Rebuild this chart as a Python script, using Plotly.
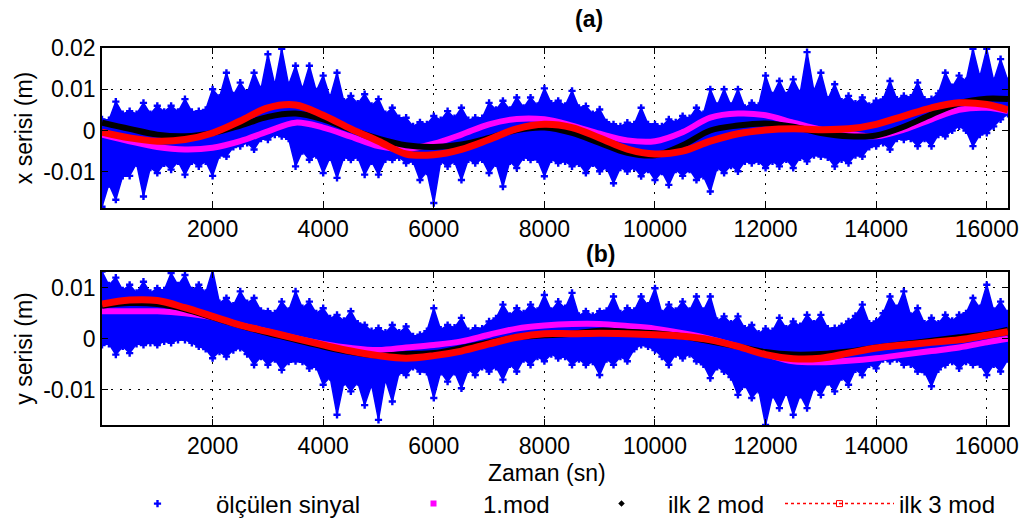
import plotly.graph_objects as go

# ---------------- data ----------------
t_mod = [0, 500, 1000, 1500, 2000, 2500, 3000, 3500, 4000, 4500, 5000, 5500,
         6000, 6500, 7000, 7500, 8000, 8500, 9000, 9500, 10000, 10500, 11000,
         11500, 12000, 12500, 13000, 13500, 14000, 14500, 15000, 15500, 16000, 16384]

# (a) x serisi
x_mod1 = [-0.0010, -0.0026, -0.0040, -0.0046, -0.0042, -0.0026, -0.0002, 0.0019, 0.0007,
          -0.0015, -0.0038, -0.0045, -0.0032, -0.0010, 0.0015, 0.0028, 0.0027, 0.0012,
          -0.0008, -0.0024, -0.0026, -0.0004, 0.0031, 0.0041, 0.0037, 0.0019, 0.0002,
          -0.0008, -0.0014, 0.0002, 0.0027, 0.0050, 0.0055, 0.0047]
x_mod2 = [0.0019, 0.0004, -0.0010, -0.0014, -0.0006, 0.0012, 0.0033, 0.0041, 0.0027,
          0.0002, -0.0020, -0.0036, -0.0040, -0.0034, -0.0018, 0.0001, 0.0007, -0.0006,
          -0.0030, -0.0054, -0.0060, -0.0036, 0.0000, 0.0012, 0.0017, 0.0009, -0.0006,
          -0.0014, -0.0012, 0.0009, 0.0039, 0.0066, 0.0077, 0.0076]
x_mod3 = [-0.0004, -0.0018, -0.0026, -0.0022, -0.0006, 0.0023, 0.0055, 0.0062, 0.0037,
          0.0004, -0.0026, -0.0057, -0.0059, -0.0046, -0.0022, 0.0004, 0.0015, 0.0007,
          -0.0018, -0.0045, -0.0057, -0.0050, -0.0026, -0.0008, 0.0001, 0.0004, 0.0002,
          0.0004, 0.0015, 0.0035, 0.0055, 0.0067, 0.0063, 0.0050]

# (b) y serisi
y_mod1 = [0.0054, 0.0054, 0.0054, 0.0050, 0.0042, 0.0027, 0.0014, 0.0001, -0.0010,
          -0.0018, -0.0022, -0.0017, -0.0012, -0.0005, 0.0008, 0.0020, 0.0026, 0.0029,
          0.0029, 0.0025, 0.0020, 0.0011, 0.0000, -0.0015, -0.0030, -0.0044, -0.0046,
          -0.0043, -0.0038, -0.0031, -0.0024, -0.0017, -0.0007, 0.0000]
y_mod2 = [0.0065, 0.0070, 0.0068, 0.0058, 0.0042, 0.0026, 0.0011, -0.0002, -0.0015,
          -0.0026, -0.0033, -0.0030, -0.0028, -0.0018, -0.0007, 0.0003, 0.0007, 0.0010,
          0.0016, 0.0014, 0.0011, 0.0005, -0.0005, -0.0015, -0.0026, -0.0031, -0.0030,
          -0.0025, -0.0017, -0.0010, -0.0004, 0.0003, 0.0009, 0.0018]
y_mod3 = [0.0068, 0.0076, 0.0075, 0.0061, 0.0044, 0.0027, 0.0014, 0.0001, -0.0012,
          -0.0024, -0.0033, -0.0038, -0.0033, -0.0024, -0.0010, 0.0003, 0.0010, 0.0010,
          0.0011, 0.0010, 0.0008, 0.0005, -0.0002, -0.0015, -0.0031, -0.0039, -0.0038,
          -0.0028, -0.0018, -0.0012, -0.0007, -0.0002, 0.0007, 0.0014]

# measured signal: spike extents of the scatter cloud (every 250 s)
t_sig = [0, 250, 500, 750, 1000, 1250, 1500, 1750, 2000, 2250, 2500, 2750, 3000, 3250,
         3500, 3750, 4000, 4250, 4500, 4750, 5000, 5250, 5500, 5750, 6000, 6250, 6500,
         6750, 7000, 7250, 7500, 7750, 8000, 8250, 8500, 8750, 9000, 9250, 9500, 9750,
         10000, 10250, 10500, 10750, 11000, 11250, 11500, 11750, 12000, 12250, 12500,
         12750, 13000, 13250, 13500, 13750, 14000, 14250, 14500, 14750, 15000, 15250,
         15500, 15750, 16000, 16250, 16384]
x_sig_upper = [0.0027, 0.0070, 0.0047, 0.0067, 0.0060, 0.0060, 0.0076, 0.0047, 0.0100,
               0.0140, 0.0116, 0.0140, 0.0185, 0.0198, 0.0157, 0.0157, 0.0133, 0.0140,
               0.0084, 0.0088, 0.0076, 0.0055, 0.0031, 0.0020, 0.0035, 0.0047, 0.0055,
               0.0031, 0.0067, 0.0072, 0.0080, 0.0080, 0.0102, 0.0072, 0.0096, 0.0059,
               0.0051, 0.0015, 0.0019, 0.0055, 0.0015, 0.0027, 0.0035, 0.0055, 0.0100,
               0.0100, 0.0100, 0.0067, 0.0133, 0.0120, 0.0124, 0.0190, 0.0140, 0.0112,
               0.0084, 0.0080, 0.0072, 0.0120, 0.0084, 0.0116, 0.0076, 0.0140, 0.0133,
               0.0198, 0.0198, 0.0173, 0.0120]
x_sig_lower = [-0.0185, -0.0168, -0.0110, -0.0160, -0.0103, -0.0095, -0.0107, -0.0087,
               -0.0110, -0.0063, -0.0038, -0.0046, -0.0022, -0.0014, -0.0087, -0.0071,
               -0.0103, -0.0115, -0.0071, -0.0107, -0.0107, -0.0071, -0.0079, -0.0120,
               -0.0176, -0.0087, -0.0120, -0.0079, -0.0103, -0.0136, -0.0091, -0.0071,
               -0.0111, -0.0079, -0.0087, -0.0103, -0.0099, -0.0128, -0.0099, -0.0111,
               -0.0120, -0.0132, -0.0110, -0.0120, -0.0148, -0.0103, -0.0099, -0.0079,
               -0.0091, -0.0087, -0.0091, -0.0075, -0.0063, -0.0087, -0.0079, -0.0063,
               -0.0038, -0.0046, -0.0022, -0.0038, -0.0038, -0.0014, 0.0010, -0.0038,
               -0.0006, 0.0027, 0.0040]
y_sig_upper = [0.0132, 0.0120, 0.0106, 0.0112, 0.0099, 0.0129, 0.0125, 0.0106, 0.0135,
               0.0080, 0.0093, 0.0080, 0.0054, 0.0073, 0.0093, 0.0073, 0.0060, 0.0047,
               0.0054, 0.0027, 0.0021, 0.0027, 0.0024, 0.0008, 0.0060, 0.0027, 0.0041,
               0.0021, 0.0034, 0.0067, 0.0060, 0.0067, 0.0086, 0.0073, 0.0090, 0.0054,
               0.0054, 0.0083, 0.0060, 0.0083, 0.0099, 0.0067, 0.0073, 0.0083, 0.0083,
               0.0044, 0.0044, 0.0027, 0.0020, 0.0041, 0.0034, 0.0047, 0.0047, 0.0021,
               0.0034, 0.0067, 0.0034, 0.0083, 0.0093, 0.0060, 0.0041, 0.0047, 0.0047,
               0.0080, 0.0106, 0.0073, 0.0050]
y_sig_lower = [-0.0012, -0.0031, -0.0028, -0.0012, -0.0012, -0.0008, -0.0002, -0.0015,
               -0.0038, -0.0035, -0.0018, -0.0051, -0.0051, -0.0061, -0.0044, -0.0058,
               -0.0090, -0.0149, -0.0103, -0.0130, -0.0159, -0.0123, -0.0071, -0.0064,
               -0.0116, -0.0084, -0.0097, -0.0071, -0.0064, -0.0080, -0.0064, -0.0051,
               -0.0044, -0.0038, -0.0051, -0.0051, -0.0071, -0.0051, -0.0044, -0.0012,
               -0.0022, -0.0051, -0.0038, -0.0044, -0.0077, -0.0064, -0.0110, -0.0116,
               -0.0169, -0.0136, -0.0149, -0.0136, -0.0110, -0.0103, -0.0090, -0.0071,
               -0.0058, -0.0044, -0.0051, -0.0064, -0.0093, -0.0051, -0.0058, -0.0051,
               -0.0071, -0.0064, -0.0040]

# measured signal: bulk edge of the cloud between the spikes (mid points)
t_mid = [125, 375, 625, 875, 1125, 1375, 1625, 1875, 2125, 2375, 2625, 2875, 3125, 3375,
         3625, 3875, 4125, 4375, 4625, 4875, 5125, 5375, 5625, 5875, 6125, 6375, 6625,
         6875, 7125, 7375, 7625, 7875, 8125, 8375, 8625, 8875, 9125, 9375, 9625, 9875,
         10125, 10375, 10625, 10875, 11125, 11375, 11625, 11875, 12125, 12375, 12625,
         12875, 13125, 13375, 13625, 13875, 14125, 14375, 14625, 14875, 15125, 15375,
         15625, 15875, 16125]
x_mid_upper = [0.0025, 0.0040, 0.0040, 0.0040, 0.0045, 0.0045, 0.0045, 0.0050, 0.0080,
               0.0085, 0.0090, 0.0100, 0.0110, 0.0110, 0.0100, 0.0095, 0.0080, 0.0070,
               0.0065, 0.0060, 0.0040, 0.0030, 0.0010, 0.0015, 0.0025, 0.0030, 0.0025,
               0.0030, 0.0050, 0.0050, 0.0055, 0.0060, 0.0065, 0.0060, 0.0055, 0.0040,
               0.0020, 0.0010, 0.0015, 0.0015, 0.0010, 0.0020, 0.0030, 0.0040, 0.0060,
               0.0060, 0.0055, 0.0060, 0.0085, 0.0085, 0.0090, 0.0095, 0.0075, 0.0070,
               0.0065, 0.0060, 0.0075, 0.0075, 0.0080, 0.0075, 0.0090, 0.0105, 0.0120,
               0.0130, 0.0120]
x_mid_lower = [-0.0130, -0.0110, -0.0080, -0.0090, -0.0080, -0.0075, -0.0075, -0.0075,
               -0.0060, -0.0040, -0.0030, -0.0020, -0.0010, -0.0020, -0.0050, -0.0060,
               -0.0065, -0.0065, -0.0065, -0.0075, -0.0070, -0.0065, -0.0075, -0.0100,
               -0.0075, -0.0075, -0.0070, -0.0070, -0.0080, -0.0075, -0.0065, -0.0070,
               -0.0070, -0.0075, -0.0080, -0.0080, -0.0090, -0.0090, -0.0090, -0.0095,
               -0.0100, -0.0095, -0.0095, -0.0110, -0.0090, -0.0085, -0.0075, -0.0075,
               -0.0075, -0.0070, -0.0065, -0.0060, -0.0065, -0.0070, -0.0060, -0.0040,
               -0.0030, -0.0020, -0.0020, -0.0020, -0.0010, 0.0000, 0.0000, -0.0010,
               0.0010]
y_mid_upper = [0.0105, 0.0095, 0.0090, 0.0090, 0.0095, 0.0105, 0.0095, 0.0090, 0.0070,
               0.0065, 0.0070, 0.0055, 0.0050, 0.0055, 0.0060, 0.0050, 0.0040, 0.0035,
               0.0030, 0.0015, 0.0012, 0.0012, 0.0005, 0.0015, 0.0018, 0.0022, 0.0015,
               0.0020, 0.0040, 0.0045, 0.0050, 0.0055, 0.0055, 0.0060, 0.0045, 0.0045,
               0.0055, 0.0050, 0.0055, 0.0065, 0.0050, 0.0055, 0.0055, 0.0055, 0.0035,
               0.0030, 0.0020, 0.0010, 0.0015, 0.0020, 0.0025, 0.0030, 0.0020, 0.0025,
               0.0045, 0.0030, 0.0050, 0.0060, 0.0045, 0.0030, 0.0030, 0.0035, 0.0050,
               0.0060, 0.0055]
y_mid_lower = [-0.0010, -0.0015, -0.0010, -0.0008, -0.0005, -0.0002, -0.0008, -0.0020,
               -0.0025, -0.0022, -0.0030, -0.0035, -0.0040, -0.0045, -0.0045, -0.0055,
               -0.0075, -0.0085, -0.0085, -0.0090, -0.0080, -0.0065, -0.0055, -0.0065,
               -0.0065, -0.0065, -0.0060, -0.0055, -0.0055, -0.0050, -0.0040, -0.0035,
               -0.0030, -0.0035, -0.0040, -0.0045, -0.0040, -0.0035, -0.0020, -0.0015,
               -0.0035, -0.0030, -0.0030, -0.0050, -0.0055, -0.0075, -0.0090, -0.0100,
               -0.0110, -0.0105, -0.0110, -0.0095, -0.0085, -0.0075, -0.0060, -0.0050,
               -0.0040, -0.0040, -0.0050, -0.0065, -0.0060, -0.0045, -0.0045, -0.0050,
               -0.0050]

x_ticks = [2000, 4000, 6000, 8000, 10000, 12000, 14000, 16000]
x_ticktext = ["2000", "4000", "6000", "8000", "10000", "12000", "14000", "16000"]
ya_ticks = [-0.01, 0, 0.01, 0.02]
ya_ticktext = ["-0.01", "0", "0.01", "0.02"]
yb_ticks = [-0.01, 0, 0.01]
yb_ticktext = ["-0.01", "0", "0.01"]

names = ["ölçülen sinyal", "1.mod", "ilk 2 mod", "ilk 3 mod"]

# ---------------- figure ----------------
FONT = "Liberation Sans, Arial, sans-serif"
BLUE, MAG, BLK, RED = "#0000FF", "#FF00FF", "#000000", "#FF0000"

fig = go.Figure()


def merged(ta, va, tb, vb):
    pts = sorted(zip(ta + tb, va + vb))
    return [p[0] for p in pts], [p[1] for p in pts]


def add_panel(xa, ya, up, lo, mup, mlo, m1, m2, m3):
    tu, vu = merged(t_sig, up, t_mid, mup)
    tl, vl = merged(t_sig, lo, t_mid, mlo)
    fig.add_trace(go.Scatter(
        x=tu + tl[::-1], y=vu + vl[::-1], xaxis=xa, yaxis=ya,
        mode="lines+markers", fill="toself", fillcolor=BLUE,
        line=dict(color=BLUE, width=1.5),
        marker=dict(symbol="cross", size=6, color=BLUE),
        showlegend=False, hoverinfo="skip"))
    for yy, col, w in [(m1, MAG, 6), (m2, BLK, 6), (m3, RED, 7)]:
        fig.add_trace(go.Scatter(
            x=t_mod, y=yy, xaxis=xa, yaxis=ya, mode="lines",
            line=dict(color=col, width=w, shape="spline", smoothing=1.0),
            showlegend=False))


add_panel("x", "y", x_sig_upper, x_sig_lower, x_mid_upper, x_mid_lower,
          x_mod1, x_mod2, x_mod3)
add_panel("x2", "y2", y_sig_upper, y_sig_lower, y_mid_upper, y_mid_lower,
          y_mod1, y_mod2, y_mod3)

# legend-only entries
fig.add_trace(go.Scatter(x=[None], y=[None], mode="markers", name=names[0],
                         marker=dict(symbol="cross", size=6, color=BLUE),
                         legend="legend"))
fig.add_trace(go.Scatter(x=[None], y=[None], mode="markers", name=names[1],
                         marker=dict(symbol="square", size=6, color=MAG),
                         legend="legend2"))
fig.add_trace(go.Scatter(x=[None], y=[None], mode="markers", name=names[2],
                         marker=dict(symbol="diamond", size=5, color=BLK),
                         legend="legend3"))
fig.add_trace(go.Scatter(x=[None], y=[None], mode="lines+markers", name=names[3],
                         line=dict(color=RED, width=1.5, dash="dot"),
                         marker=dict(symbol="square-open", size=6, color=RED),
                         legend="legend4"))

W, H = 1030, 524
L, R, T, B = 102, 22, 48, 99
PW, PH = W - L - R, H - T - B


def px_x(p):
    return (p - L) / PW


def px_y(p):
    return (H - B - p) / PH


axis_common = dict(
    showline=True, linecolor="black", linewidth=1.5, mirror="allticks",
    ticks="inside", ticklen=6, tickwidth=1.2, tickcolor="black",
    showgrid=True, gridcolor="black", gridwidth=1, griddash="2px,7px",
    zeroline=False, automargin=False,
    tickfont=dict(family=FONT, size=23, color="black"),
)

fig.update_layout(
    width=W, height=H, margin=dict(l=L, r=R, t=T, b=B, autoexpand=False),
    paper_bgcolor="white", plot_bgcolor="white",
    font=dict(family=FONT, size=23, color="black"),
    xaxis=dict(axis_common, range=[0, 16384], tickvals=x_ticks, ticktext=x_ticktext,
               anchor="y", domain=[0, 1], ticklabelstandoff=0),
    yaxis=dict(axis_common, range=[-0.0188, 0.0200], tickvals=ya_ticks,
               ticktext=ya_ticktext, domain=[px_y(208), 1], anchor="x",
               title=dict(text="x serisi (m)", standoff=4,
                          font=dict(family=FONT, size=23))),
    xaxis2=dict(axis_common, range=[0, 16384], tickvals=x_ticks, ticktext=x_ticktext,
                anchor="y2", domain=[0, 1], ticklabelstandoff=0),
    yaxis2=dict(axis_common, range=[-0.0169, 0.0131], tickvals=yb_ticks,
                ticktext=yb_ticktext, domain=[0, px_y(272)], anchor="x2",
                title=dict(text="y serisi (m)", standoff=4,
                           font=dict(family=FONT, size=23))),
    annotations=[
        dict(text="<b>(a)</b>", x=px_x(589), y=px_y(19), xref="paper", yref="paper",
             xanchor="center", yanchor="middle",
             showarrow=False, font=dict(family=FONT, size=23)),
        dict(text="<b>(b)</b>", x=px_x(600), y=px_y(254), xref="paper", yref="paper",
             xanchor="center", yanchor="middle",
             showarrow=False, font=dict(family=FONT, size=23)),
        dict(text="Zaman (sn)", x=px_x(547), y=px_y(473), xref="paper", yref="paper",
             xanchor="center", yanchor="middle",
             showarrow=False, font=dict(family=FONT, size=23)),
    ],
)

leg_common = dict(orientation="h", yanchor="middle", xanchor="left",
                  bgcolor="rgba(0,0,0,0)", borderwidth=0,
                  font=dict(family=FONT, size=24, color="black"))
fig.update_layout(
    legend=dict(leg_common, x=px_x(99), y=px_y(504), itemwidth=107),
    legend2=dict(leg_common, x=px_x(384), y=px_y(504), itemwidth=89),
    legend3=dict(leg_common, x=px_x(575), y=px_y(504), itemwidth=83),
    legend4=dict(leg_common, x=px_x(780), y=px_y(504), itemwidth=109),
)

fig.write_html("out.html", config={"displayModeBar": False},
               post_script="document.body.style.margin='0px';")
